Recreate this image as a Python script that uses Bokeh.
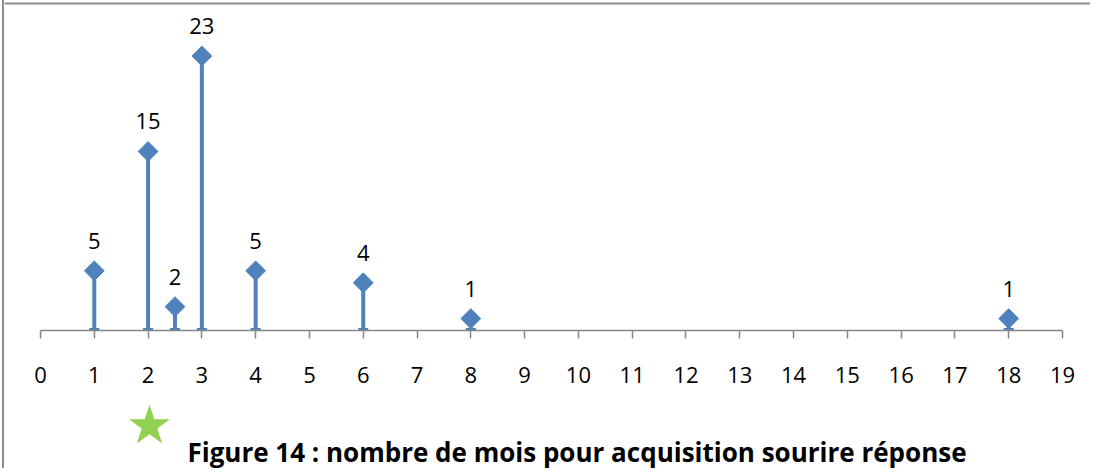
import numpy as np
from bokeh.plotting import figure
from bokeh.layouts import column, row
from bokeh.models import (Range1d, FixedTicker, LabelSet, ColumnDataSource,
                          BoxAnnotation, Div, Spacer)
from bokeh.core.properties import value
from bokeh.embed import file_html
from bokeh.resources import INLINE

# ---- data ----
months = [1, 2, 2.5, 3, 4, 6, 8, 18]
counts = [5, 15, 2, 23, 5, 4, 1, 1]
tick_values = list(range(0, 20))
tick_labels = [str(t) for t in tick_values]
title_text = "Figure 14 : nombre de mois pour acquisition sourire réponse"

BLUE = "#4F81BD"
GRAY = "#868686"
BORDER = "#8C8C8C"
FONT = "Open Sans"

W = 1086
H1 = 398
H2 = 70

src = ColumnDataSource(dict(x=months, y=counts, label=[str(c) for c in counts]))

# ---------- main chart ----------
p = figure(width=W, height=H1, output_backend="svg", toolbar_location=None,
           x_range=Range1d(-0.6693, 19.5206), y_range=Range1d(0, 27.65),
           y_axis_type=None,
           min_border_left=0, min_border_right=0, min_border_top=0, min_border_bottom=68)
p.xgrid.visible = False
p.outline_line_color = None
p.background_fill_color = "white"
p.border_fill_color = "white"

ax = p.xaxis[0]
ax.ticker = FixedTicker(ticks=tick_values)
ax.major_label_overrides = {t: l for t, l in zip(tick_values, tick_labels)}
ax.bounds = (0, 19)
ax.axis_line_color = GRAY
ax.axis_line_width = 1.5
ax.major_tick_line_color = GRAY
ax.major_tick_line_width = 1.5
ax.major_tick_in = 0
ax.major_tick_out = 8
ax.minor_tick_line_color = None
ax.major_label_text_font = FONT
ax.major_label_text_font_size = "22px"
ax.major_label_text_color = "black"
ax.major_label_standoff = 28

# stems
p.segment(x0="x", y0=0, x1="x", y1="y", source=src, line_color=BLUE, line_width=4)
# bottom caps
p.rect(x="x", y=0, width=10, height=5, width_units="screen", height_units="screen",
       source=src, fill_color=BLUE, line_color=None)
# diamond markers
p.scatter(x="x", y="y", source=src, marker="square", angle=np.pi / 4, size=14,
          fill_color=BLUE, line_color=BLUE)

labels = LabelSet(x="x", y="y", text="label", source=src, y_offset=22,
                  text_align="center", text_baseline="alphabetic",
                  text_font=value(FONT), text_font_size=value("22px"), text_color="black")
p.add_layout(labels)

# top border of the chart area
p.add_layout(BoxAnnotation(left=0, right=W, top=328, bottom=326,
                           left_units="screen", right_units="screen",
                           top_units="screen", bottom_units="screen",
                           fill_color=BORDER, fill_alpha=1.0, line_color=None))

# ---------- caption strip ----------
q = figure(width=W, height=H2, output_backend="svg", toolbar_location=None,
           x_range=Range1d(0, W), y_range=Range1d(H2, 0),
           x_axis_type=None, y_axis_type=None, min_border=0)
q.grid.visible = False
q.outline_line_color = None
q.background_fill_color = "white"
q.border_fill_color = "white"

cx, cy, R = 145, 27.5, 21.5
ang = -np.pi / 2 + np.arange(10) * np.pi / 5
rad = np.where(np.arange(10) % 2 == 0, R, R * 0.382)
q.patch(x=list(cx + rad * np.cos(ang)), y=list(cy + rad * np.sin(ang)),
        fill_color="#92D050", line_color=None)

q.text(x=[572.5], y=[53], text=[title_text], text_font=value(FONT),
       text_font_style="bold", text_font_size="26px", text_color="black",
       text_align="center", text_baseline="alphabetic")

border_left = Div(width=2, height=H1 + H2, margin=0,
                  styles={"background-color": BORDER})
layout = row(Spacer(width=2, height=H1 + H2, margin=0), border_left, column(p, q))

open("out.html", "w").write(file_html(layout, INLINE))
